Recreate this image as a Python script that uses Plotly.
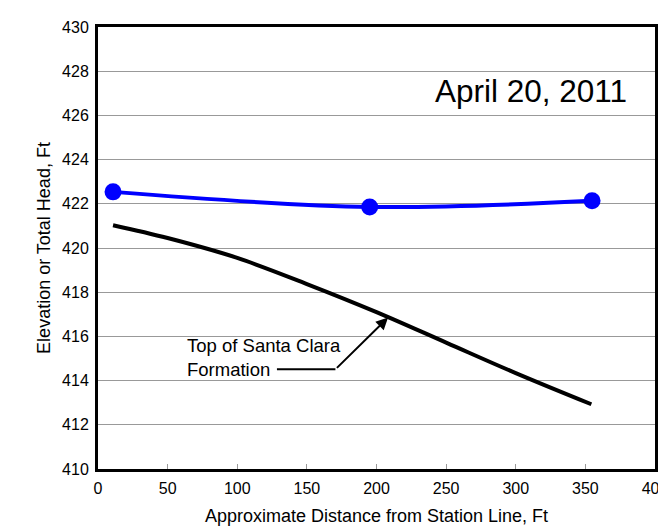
import plotly.graph_objects as go

# Data
head_x = [10.8, 195.1, 354.8]
head_y = [422.54, 421.86, 422.14]

formation_x = [10.8, 50, 100, 150, 200, 250, 300, 354.3]
formation_y = [421.03, 420.45, 419.55, 418.37, 417.1, 415.72, 414.34, 412.93]

x_ticks = [0, 50, 100, 150, 200, 250, 300, 350, 400]
y_ticks = [410, 412, 414, 416, 418, 420, 422, 424, 426, 428, 430]

date_label = "April 20, 2011"
formation_label = "Top of Santa Clara<br>Formation"

FONT = "Liberation Sans, Arial, sans-serif"

fig = go.Figure()

fig.add_trace(go.Scatter(
    x=formation_x, y=formation_y, mode="lines",
    line=dict(color="black", width=4, shape="spline"),
    showlegend=False, hoverinfo="skip"))

fig.add_trace(go.Scatter(
    x=head_x, y=head_y, mode="lines+markers",
    line=dict(color="#0000FF", width=4, shape="spline"),
    marker=dict(color="#0000FF", size=17),
    showlegend=False, hoverinfo="skip"))

# Bent leader line for label
fig.add_shape(type="line", x0=128.5, y0=414.51, x1=170.5, y1=414.51,
              xref="x", yref="y", line=dict(color="black", width=2))
fig.add_annotation(x=208.3, y=416.85, ax=170.5, ay=414.51, axref="x", ayref="y",
                   xref="x", yref="y", text="", showarrow=True,
                   arrowhead=2, arrowsize=1.2, arrowwidth=2, arrowcolor="black")
fig.add_annotation(x=62.5, y=415.05, xref="x", yref="y", text=formation_label,
                   showarrow=False, xanchor="left", yanchor="middle", align="left",
                   font=dict(family=FONT, size=18.5, color="black"))
fig.add_annotation(x=311, y=427.11, xref="x", yref="y", text=date_label,
                   showarrow=False, xanchor="center", yanchor="middle",
                   font=dict(family=FONT, size=31.5, color="black"))

fig.update_layout(
    width=666, height=529,
    margin=dict(l=90, r=19, t=19, b=68),
    paper_bgcolor="white", plot_bgcolor="white",
    font=dict(family=FONT, size=16, color="black"),
    xaxis=dict(range=[0, 400], tickvals=x_ticks, ticks="inside", ticklen=5,
               tickcolor="#999999", showgrid=False, zeroline=False,
               showline=True, linecolor="black", linewidth=3, mirror=True,
               automargin=False, ticklabelstandoff=3,
               title=dict(text="Approximate Distance from Station Line, Ft",
                          font=dict(size=18), standoff=14),
               tickfont=dict(size=16)),
    yaxis=dict(range=[410, 430], tickvals=y_ticks, ticks="", showgrid=True,
               gridcolor="#999999", gridwidth=1, zeroline=False,
               showline=True, linecolor="black", linewidth=3, mirror=True,
               ticklabelstandoff=3, automargin=False,
               title=dict(text="Elevation or Total Head, Ft",
                          font=dict(size=18), standoff=7),
               tickfont=dict(size=16)),
)

fig.write_html("out.html")
